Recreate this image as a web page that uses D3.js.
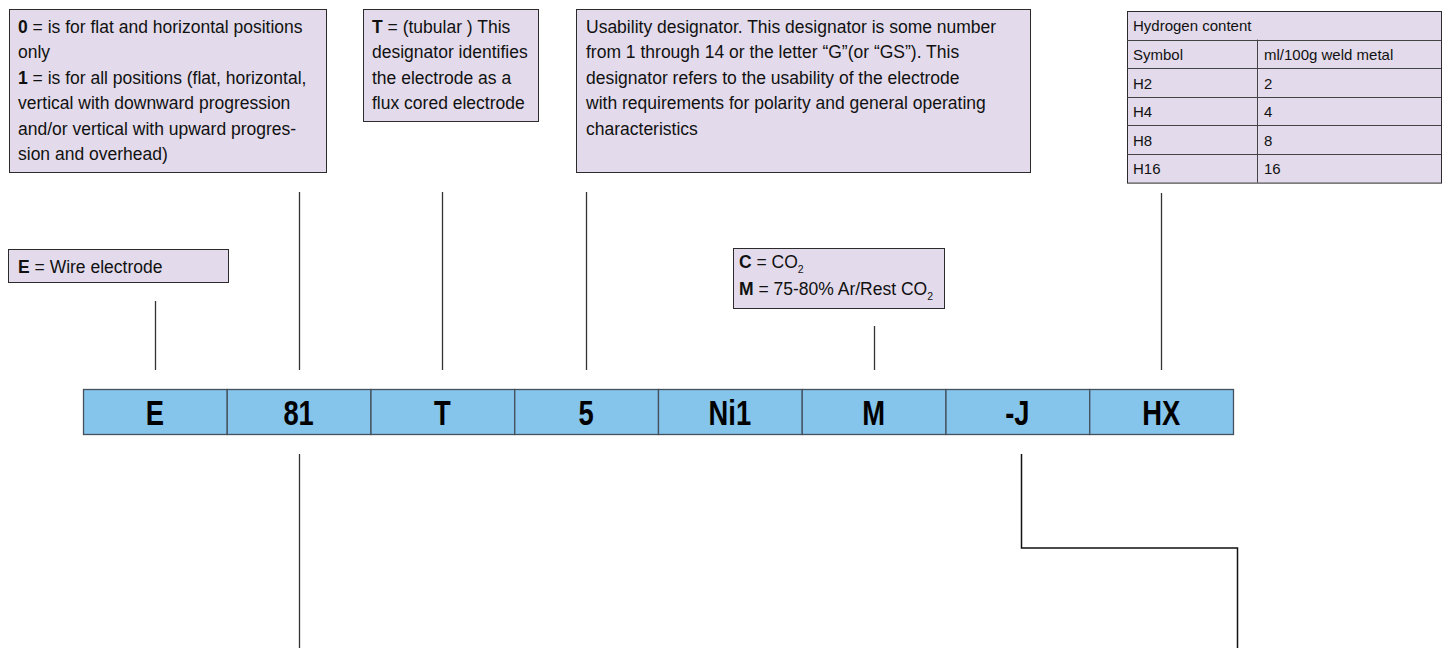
<!DOCTYPE html>
<html>
<head>
<meta charset="utf-8">
<script src="https://cdn.jsdelivr.net/npm/d3@7/dist/d3.min.js"></script>
<style>
  html, body { margin: 0; padding: 0; background: #fff; }
  svg { display: block; }
  .t { font-family: 'Liberation Sans', Arial, sans-serif; fill: #111; }
  .seg { font-family: 'Liberation Sans Narrow', 'Arial Narrow', 'Liberation Sans', sans-serif; font-weight: bold; fill: #000; }
</style>
</head>
<body>
<svg id="chart" width="1442" height="648"></svg>
<script>
// ---- data ----
const segments = ["E", "81", "T", "5", "Ni1", "M", "-J", "HX"];
const hydrogenSymbols = ["H2", "H4", "H8", "H16"];
const hydrogenValues = [2, 4, 8, 16];
const tableHeader = ["Hydrogen content"];
const tableColumns = ["Symbol", "ml/100g weld metal"];

// text blocks: each line is a list of [text, bold]
const box81Lines = [
  [["0", true], [" = is for flat and horizontal positions", false]],
  [["only", false]],
  [["1", true], [" = is for all positions (flat, horizontal,", false]],
  [["vertical with downward progression", false]],
  [["and/or vertical with upward progres-", false]],
  [["sion and overhead)", false]]
];
const boxTLines = [
  [["T", true], [" = (tubular ) This", false]],
  [["designator identifies", false]],
  [["the electrode as a", false]],
  [["flux cored electrode", false]]
];
const box5Lines = [
  [["Usability designator. This designator is some number", false]],
  [["from 1 through 14 or the letter \u201CG\u201D(or \u201CGS\u201D). This", false]],
  [["designator refers to the usability of the electrode", false]],
  [["with requirements for polarity and general operating", false]],
  [["characteristics", false]]
];
const boxELines = [
  [["E", true], [" = Wire electrode", false]]
];
const boxMLines = [
  [["C", true], [" = CO", false], ["2", "sub"]],
  [["M", true], [" = 75-80% Ar/Rest CO", false], ["2", "sub"]]
];

// ---- drawing ----
const svg = d3.select("#chart");
const boxFill = "#e3dbeb";
const boxStroke = "#2b2b2b";
const lineStroke = "#333";

const x = d3.scaleBand().domain(segments).range([83, 1233]).padding(0);
const barTop = 389, barH = 45;

function drawBox(x0, y0, w, h, lines, baseline0, lineH, tx, fs) {
  svg.append("rect").attr("x", x0 + 0.5).attr("y", y0 + 0.5).attr("width", w).attr("height", h)
    .attr("fill", boxFill).attr("stroke", boxStroke).attr("stroke-width", 1);
  lines.forEach((parts, i) => {
    const t = svg.append("text").attr("class", "t").attr("x", tx).attr("y", baseline0 + i * lineH)
      .attr("font-size", fs);
    parts.forEach(([s, b]) => {
      if (b === "sub") {
        t.append("tspan").text(s).attr("font-size", fs * 0.6).attr("dy", 5);
      } else {
        t.append("tspan").text(s).attr("font-weight", b ? "bold" : "normal");
      }
    });
  });
}

// callout boxes
const fs = 17.5;
drawBox(9, 9, 317, 163, box81Lines, 33, 25.4, 18, fs);
drawBox(363, 9, 175, 112, boxTLines, 33, 25.4, 372, fs);
drawBox(576, 9, 454, 163, box5Lines, 33, 25.4, 586, fs);
drawBox(8, 249, 220, 33, boxELines, 272.5, 25.4, 18, fs);
drawBox(733, 248, 211, 60, boxMLines, 267.5, 27, 739, fs);

// hydrogen table
const tx0 = 1127, tx1 = 1441, tcol = 1257, ty0 = 11, rowH = 28.6;
const rows = [tableColumns].concat(hydrogenSymbols.map((s, i) => [s, String(hydrogenValues[i])]));
const tg = svg.append("g");
tg.append("rect").attr("x", tx0 + 0.5).attr("y", ty0 + 0.5).attr("width", tx1 - tx0).attr("height", rowH * (rows.length + 1))
  .attr("fill", boxFill).attr("stroke", boxStroke).attr("stroke-width", 1);
tg.append("text").attr("class", "t").attr("x", tx0 + 6).attr("y", ty0 + rowH / 2 + 6).attr("font-size", 15).text(tableHeader[0]);
rows.forEach((r, i) => {
  const y = ty0 + rowH * (i + 1);
  tg.append("line").attr("x1", tx0).attr("x2", tx1).attr("y1", Math.round(y) + 0.5).attr("y2", Math.round(y) + 0.5)
    .attr("stroke", "#444").attr("stroke-width", 1);
  tg.append("text").attr("class", "t").attr("x", tx0 + 6).attr("y", y + rowH / 2 + 6).attr("font-size", 15).text(r[0]);
  tg.append("text").attr("class", "t").attr("x", tcol + 7).attr("y", y + rowH / 2 + 6).attr("font-size", 15).text(r[1]);
});
tg.append("line").attr("x1", tcol + 0.5).attr("x2", tcol + 0.5).attr("y1", ty0 + rowH).attr("y2", ty0 + rowH * (rows.length + 1))
  .attr("stroke", "#444").attr("stroke-width", 1);

// segment bar
const bar = svg.append("g");
bar.selectAll("rect").data(segments).join("rect")
  .attr("x", d => x(d) + 0.5).attr("y", barTop + 0.5)
  .attr("width", x.bandwidth()).attr("height", barH)
  .attr("fill", "#85c4eb").attr("stroke", "#44505c").attr("stroke-width", 1.3);
bar.selectAll("text").data(segments).join("text")
  .attr("class", "seg")
  .attr("transform", d => `translate(${x(d) + x.bandwidth() / 2},${barTop + barH / 2 + 13}) scale(0.76,1)`)
  .attr("text-anchor", "middle")
  .attr("font-size", 36)
  .text(d => d);

// callout connector lines (above bar)
const cx = d => Math.round(x(d) + x.bandwidth() / 2) + 0.5;
const upLines = [["E", 301], ["81", 192], ["T", 192], ["5", 192], ["M", 326], ["HX", 193]];
upLines.forEach(([s, top]) => {
  svg.append("line").attr("x1", cx(s)).attr("x2", cx(s)).attr("y1", top).attr("y2", 370)
    .attr("stroke", lineStroke).attr("stroke-width", 1.3);
});

// connector lines (below bar)
svg.append("line").attr("x1", cx("81")).attr("x2", cx("81")).attr("y1", 454).attr("y2", 648)
  .attr("stroke", lineStroke).attr("stroke-width", 1.3);
const jx = cx("-J") + 4;
svg.append("path")
  .attr("d", d3.line()([[jx, 454], [jx, 548], [1237.5, 548], [1237.5, 648]]))
  .attr("fill", "none").attr("stroke", "#111").attr("stroke-width", 1.5);
</script>
</body>
</html>
